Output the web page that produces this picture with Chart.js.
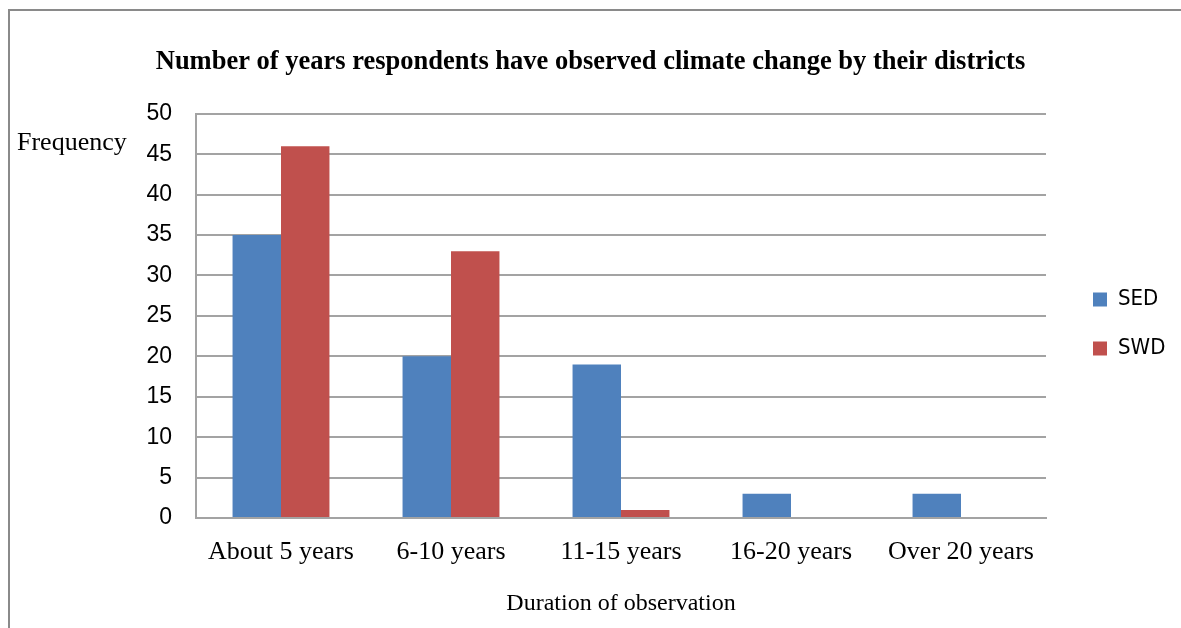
<!DOCTYPE html>
<html>
<head>
<meta charset="utf-8">
<script src="https://cdn.jsdelivr.net/npm/chart.js@4.4.1/dist/chart.umd.min.js"></script>
<style>
  html, body { margin: 0; padding: 0; background: #ffffff; }
  #wrap { width: 1181px; height: 628px; position: relative; }
</style>
</head>
<body>
<div id="wrap"><canvas id="c" width="1181" height="628"></canvas></div>
<script>
// Survey results: how long respondents have observed climate change, per district
const categories = ['About 5 years', '6-10 years', '11-15 years', '16-20 years', 'Over 20 years'];
const sedValues = [35, 20, 19, 3, 3];
const swdValues = [46, 33, 1, 0, 0];
const seriesNames = ['SED', 'SWD'];
const yTicks = [0, 5, 10, 15, 20, 25, 30, 35, 40, 45, 50];

const chartTitle = 'Number of years respondents have observed climate change by their districts';
const xAxisTitle = 'Duration of observation';
const yAxisTitle = 'Frequency';

const GRID = '#a3a3a3';
const SERIF = '"Liberation Serif", "Times New Roman", serif';
const SANS = '"Liberation Sans", Arial, sans-serif';
const SANS_COND = '"DejaVu Sans Condensed", "Liberation Sans", Arial, sans-serif';
const LEGEND_WIDTH = 135;

// Outer frame and the horizontal "Frequency" caption next to the value axis
const framePlugin = {
  id: 'frame',
  beforeDraw(chart) {
    const ctx = chart.ctx;
    ctx.save();
    ctx.fillStyle = '#ffffff';
    ctx.fillRect(0, 0, chart.width, chart.height);
    ctx.strokeStyle = '#8a8a8a';
    ctx.lineWidth = 2;
    ctx.beginPath();
    ctx.moveTo(9, chart.height + 2);
    ctx.lineTo(9, 10);
    ctx.lineTo(chart.width + 2, 10);
    ctx.stroke();
    ctx.restore();
  },
  afterDraw(chart) {
    const ctx = chart.ctx;
    const y = chart.scales.y;
    ctx.save();
    ctx.fillStyle = '#000000';
    ctx.font = '26px ' + SERIF;
    ctx.textAlign = 'left';
    ctx.textBaseline = 'middle';
    ctx.fillText(yAxisTitle, 17, y.getPixelForValue(46.4));
    ctx.restore();
  }
};

// Fixed-width legend column, entries set a fixed distance right of the plot area
const legendPlace = {
  id: 'legendPlace',
  beforeLayout(chart) {
    const lg = chart.legend;
    if (!lg || lg._fixedWidth) return;
    const fit = lg.fit;
    lg.fit = function () {
      fit.call(this);
      this.width = LEGEND_WIDTH;
    };
    lg._fixedWidth = true;
  },
  afterLayout(chart) {
    const lg = chart.legend;
    if (!lg) return;
    const pad = lg.options.labels.padding;
    const dx = (chart.chartArea.right + 47) - (lg.left + pad);
    lg.left += dx;
    lg.right += dx;
    lg.top += 10;
    lg.bottom += 10;
  }
};

new Chart(document.getElementById('c'), {
  type: 'bar',
  data: {
    labels: categories,
    datasets: [
      { label: seriesNames[0], data: sedValues, backgroundColor: '#4f81bd', borderWidth: 0 },
      { label: seriesNames[1], data: swdValues, backgroundColor: '#c0504d', borderWidth: 0 }
    ]
  },
  options: {
    responsive: false,
    animation: false,
    devicePixelRatio: 1,
    layout: { padding: { left: 0, right: 0, top: 0, bottom: 0 } },
    datasets: {
      bar: { categoryPercentage: 0.57, barPercentage: 1.0 }
    },
    plugins: {
      title: {
        display: true,
        text: chartTitle,
        color: '#000000',
        font: { family: SERIF, size: 26.5, weight: 'bold' },
        padding: { top: 46, bottom: 36 }
      },
      legend: {
        position: 'right',
        labels: {
          color: '#000000',
          font: { family: SANS_COND, size: 22 },
          boxWidth: 14,
          boxHeight: 14,
          padding: 27
        }
      },
      tooltip: { enabled: false }
    },
    scales: {
      x: {
        grid: { display: false, drawTicks: false },
        border: { display: true, color: GRID, width: 2 },
        ticks: {
          color: '#000000',
          font: { family: SERIF, size: 26 },
          padding: 19,
          maxRotation: 0
        },
        title: {
          display: true,
          text: xAxisTitle,
          color: '#000000',
          font: { family: SERIF, size: 24 },
          padding: { top: 2, bottom: 10 }
        }
      },
      y: {
        min: 0,
        max: 50,
        afterBuildTicks(scale) { scale.ticks = yTicks.map(v => ({ value: v })); },
        afterFit(scale) { scale.width = 196; },
        grid: { color: GRID, lineWidth: 2, drawTicks: false },
        border: { display: true, color: GRID, width: 2 },
        ticks: {
          color: '#000000',
          font: { family: SANS, size: 23 },
          padding: 24
        }
      }
    }
  },
  plugins: [framePlugin, legendPlace]
});
</script>
</body>
</html>
